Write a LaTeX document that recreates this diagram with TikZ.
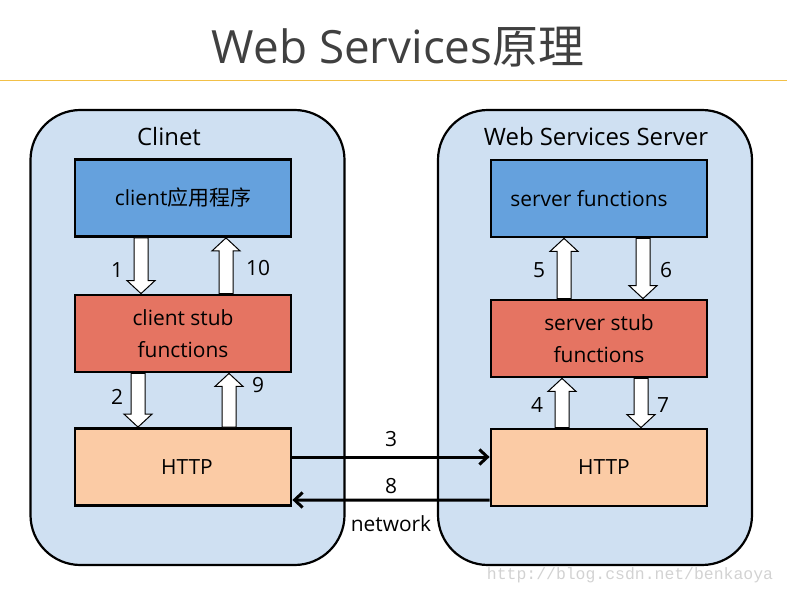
\documentclass[tikz,border=0pt]{standalone}
\usepackage{fontspec}
\setmainfont{Open Sans}
\newfontfamily\cjk{Noto Sans CJK SC}
\newfontfamily\wmfont{Liberation Mono}
\usetikzlibrary{calc}
\usetikzlibrary{arrows.meta}
\usetikzlibrary{positioning}

\definecolor{outerblue}{RGB}{207,224,242}
\definecolor{appblue}{RGB}{101,161,221}
\definecolor{stubred}{RGB}{229,116,98}
\definecolor{httppeach}{RGB}{251,203,165}
\definecolor{titlegray}{RGB}{64,64,64}
\definecolor{ruleorange}{RGB}{242,192,72}

\begin{document}
\begin{tikzpicture}[x=1bp, y=-1bp,
        side/.style={draw=black, line width=2.2bp, fill=outerblue, rounded corners=50bp, minimum width=314bp, minimum height=455bp, inner sep=0},
        block/.style={draw=black, line width=2.8bp, minimum width=216bp, minimum height=77bp, align=center, font=\fontsize{21}{32}\selectfont, inner sep=0},
        fat/.style={draw=black, line width=1bp, fill=white},
        link/.style={line width=3bp, -{Straight Barb[length=8bp,width=15bp]}},
        lbl/.style={font=\fontsize{21}{25}\selectfont}
    ]

        \useasboundingbox (0,0) rectangle (787,596);

        % Title
        \node[font=\fontsize{46}{50}\selectfont, text=titlegray] (title) at (398,47) {Web Services{\cjk 原理}};
        \draw[ruleorange, line width=1bp] (0,81) -- (787,81);

        % Client / Server sides
        \node[side] (client) at (187.5,337.5) {};
        \node[side] (server) at (595,337.5) {};
        \node[lbl, font=\fontsize{24}{28}\selectfont] (clientlbl) at (169,137) {Clinet};
        \node[lbl, font=\fontsize{24}{28}\selectfont] (serverlbl) at (596,137) {Web Services Server};

        % Client column
        \node[block, fill=appblue] (capp) at (183,198) {\raisebox{-4bp}{client{\cjk 应用程序}}};
        \node[block, fill=stubred] (cstub) at (183,333.5) {client stub\\functions};
        \node[block, fill=httppeach] (chttp) at (183,467) {\hspace*{8bp}HTTP};

        % Server column
        \node[block, fill=appblue] (sfun) at (599,198.5) {\raisebox{-4bp}{server functions}\hspace*{20bp}};
        \node[block, fill=stubred] (sstub) at (599,338.5) {server stub\\functions};
        \node[block, fill=httppeach] (shttp) at (599,467.5) {\hspace*{10bp}HTTP};

        % Block arrows: start/end/x offset/label offset x/label offset y/number
        \foreach \s/\e/\dx/\lx/\ly/\num in {
                capp.south/cstub.north/-42/-66/4/1,
                cstub.north/capp.south/43/75/2/10,
                cstub.south/chttp.north/-45/-66/-3/2,
                chttp.north/cstub.south/46/75/-15/9,
                sstub.north/sfun.south/-35/-60/2/5,
                sfun.south/sstub.north/44/67/2/6,
                shttp.north/sstub.south/-37/-62/2/4,
                sstub.south/shttp.north/42/64/2/7}{
            \draw[fat] let \p1=($(\s)+(\dx,0)$), \p2=($(\e)+(\dx,0)$), \n1={sign(\y2-\y1)} in
                ({\x1-7bp},{\y1}) -- ({\x1-7bp},{\y2-13bp*\n1}) -- ({\x1-14bp},{\y2-13bp*\n1}) -- ({\x1},{\y2})
                -- ({\x1+14bp},{\y2-13bp*\n1}) -- ({\x1+7bp},{\y2-13bp*\n1}) -- ({\x1+7bp},{\y1}) -- cycle;
            \node[lbl] (n\num) at ($(\s)!0.5!(\e)+(\lx,\ly)$) {\num};
        }

        % HTTP <-> HTTP over the network
        \draw[link] ($(chttp.east)+(0,-10)$) -- node[lbl, above=5bp] (n3) {3} ($(shttp.west)+(0,-10.5)$);
        \draw[link] ($(shttp.west)+(0,32.5)$) -- node[lbl, above=1bp] (n8) {8}
            node[lbl, below=11bp] (net) {network} ($(chttp.east)+(0,33)$);

        % Watermark
        \node[text=gray!35, font=\wmfont\fontsize{16.5}{18}\selectfont] (mark) at (630,575) {http://blog.csdn.net/benkaoya};

    \end{tikzpicture}
\end{document}
